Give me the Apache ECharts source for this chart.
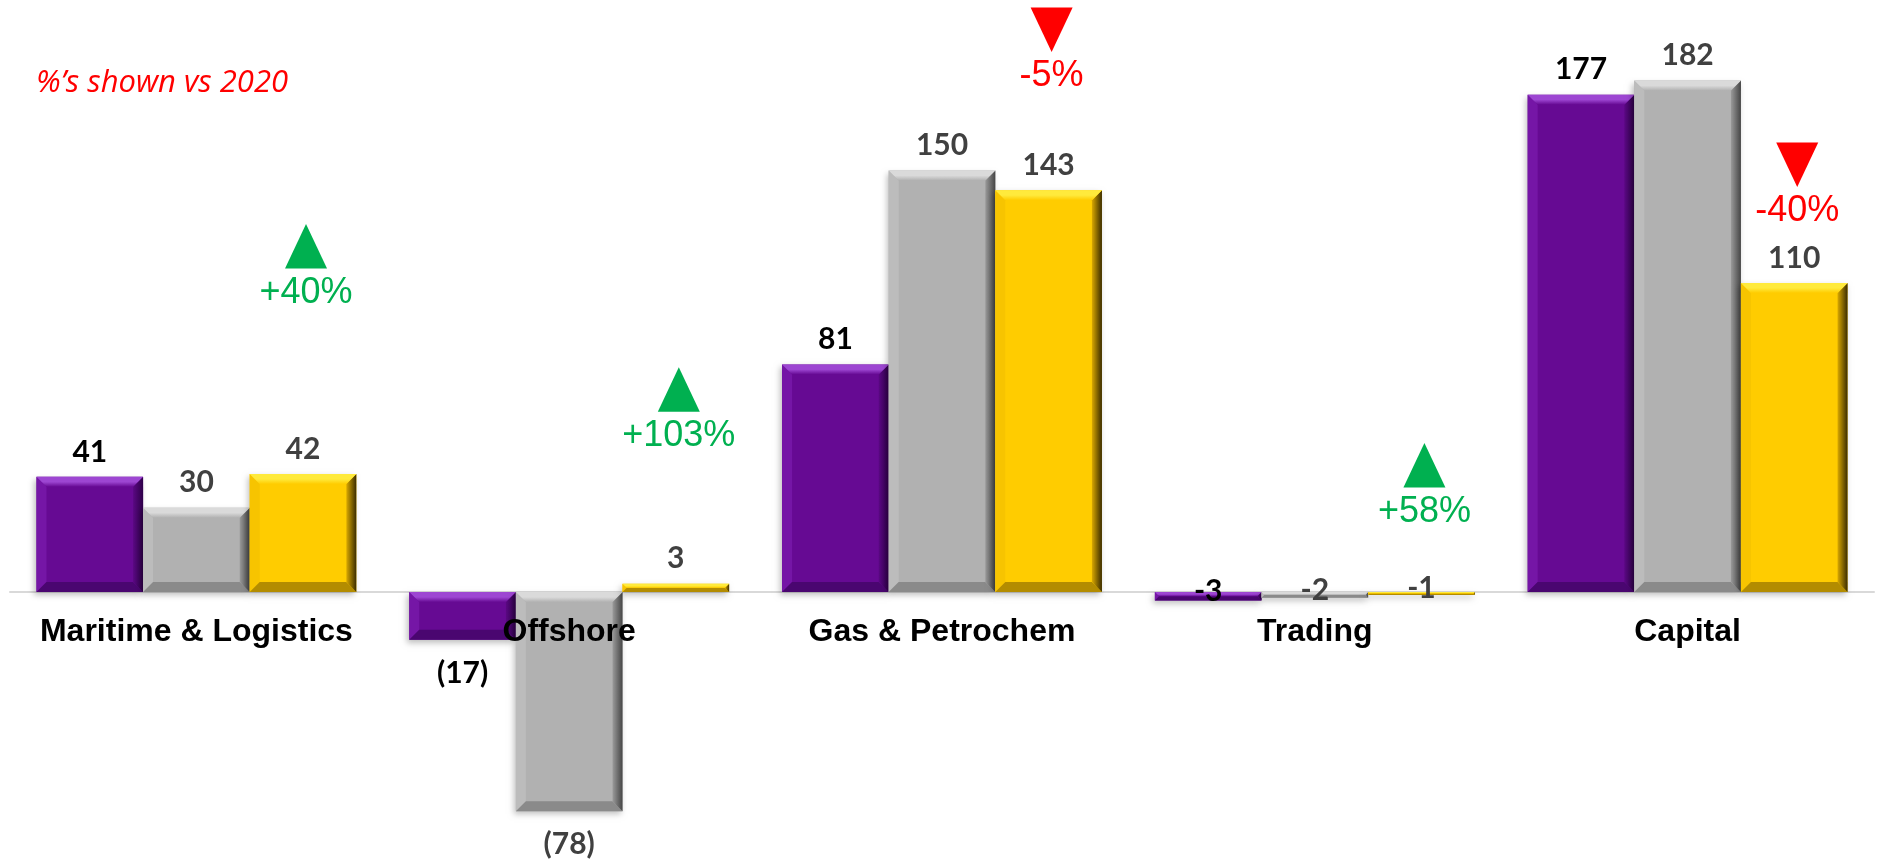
<!DOCTYPE html>
<html>
<head>
<meta charset="utf-8">
<script src="https://cdn.jsdelivr.net/npm/echarts@6/dist/echarts.min.js"></script>
<style>
html,body{margin:0;padding:0;background:#fff;}
#chart{width:1879px;height:862px;}
</style>
</head>
<body>
<div id="chart"></div>
<script>
// ---- data ----
const categories = ['Maritime & Logistics', 'Offshore', 'Gas & Petrochem', 'Trading', 'Capital'];
const seriesA = [41, -17, 81, -3, 177];     // purple
const seriesB = [30, -78, 150, -2, 182];    // gray
const seriesC = [42, 3, 143, -1, 110];      // yellow
const changeText = ['+40%', '+103%', '-5%', '+58%', '-40%'];
const changeLevel = [131, 80, 208, 53, 160]; // value level of the arrow top
const noteText = '%\u2019s shown vs 2020';

// ---- styles ----
const palette = [
  {base:'#660a93', top:'#9d46d2', left:'#7516a6', bottom:'#4a0670', right1:'#5a0883', right2:'#2e0048', label:'#000000'},
  {base:'#b1b1b1', top:'#dadada', left:'#bcbcbc', bottom:'#8a8a8a', right1:'#9a9a9a', right2:'#454545', label:'#404040'},
  {base:'#ffcc00', top:'#ffea3c', left:'#f7c400', bottom:'#b38c00', right1:'#d9a800', right2:'#3b2c00', label:'#404040'}
];
const BAR_FRAC = 0.286;
const inlineLabelCats = ['Trading'];

const allSeries = [seriesA, seriesB, seriesC];

const chart = echarts.init(document.getElementById('chart'));

function fmt(v, cat) {
  if (v < 0 && inlineLabelCats.indexOf(cat) < 0) return '(' + Math.abs(v) + ')';
  return String(v);
}

const barSeries = allSeries.map((arr, si) => ({
  type: 'bar',
  z: 3,
  barWidth: (BAR_FRAC * 100) + '%',
  barGap: '0%',
  itemStyle: {color: 'rgba(0,0,0,0)'},
  silent: true,
  data: arr.map((v, ci) => {
    const cat = categories[ci];
    const inline = inlineLabelCats.indexOf(cat) >= 0;
    return {
      value: v,
      label: {
        show: true,
        position: inline ? 'inside' : (v < 0 ? 'bottom' : 'top'),
        offset: inline ? [0, -5] : [0, 0],
        distance: v < 0 ? 18 : 10,
        formatter: () => fmt(v, cat),
        color: palette[si].label,
        fontFamily: 'Lato',
        fontWeight: 'bold',
        fontSize: 30
      }
    };
  })
}));

const bevelData = [];
allSeries.forEach((arr, si) => arr.forEach((v, ci) => bevelData.push([ci, si, v])));

function renderBevelBar(params, api) {
  const ci = api.value(0), si = api.value(1), v = api.value(2);
  const bandW = api.size([1, 0])[0];
  const bw = bandW * BAR_FRAC;
  const c0 = api.coord([ci, 0]);
  const c1 = api.coord([ci, v]);
  const x0 = c0[0] + (si - 1.5) * bw;
  const x1 = x0 + bw;
  const yt = Math.min(c0[1], c1[1]);
  const yb = Math.max(c0[1], c1[1]);
  const h = yb - yt;
  const b = Math.min(10, h / 2, bw / 2);
  const p = palette[si];
  const children = [
    {type: 'rect', shape: {x: x0, y: yt, width: bw, height: h},
     style: {fill: p.base, shadowBlur: 6, shadowColor: 'rgba(0,0,0,0.25)', shadowOffsetX: -2, shadowOffsetY: 3}},
    {type: 'polygon', shape: {points: [[x0, yt], [x0 + b, yt + b], [x0 + b, yb - b], [x0, yb]]}, style: {fill: p.left}},
    {type: 'polygon', shape: {points: [[x0, yb], [x1, yb], [x1 - b, yb - b], [x0 + b, yb - b]]}, style: {fill: p.bottom}},
    {type: 'polygon', shape: {points: [[x1, yt], [x1, yb], [x1 - b, yb - b], [x1 - b, yt + b]]},
     style: {fill: new echarts.graphic.LinearGradient(0, 0, 1, 0, [{offset: 0, color: p.right1}, {offset: 1, color: p.right2}])}},
    {type: 'polygon', shape: {points: [[x0, yt], [x1, yt], [x1 - b, yt + b], [x0 + b, yt + b]]},
     style: {fill: new echarts.graphic.LinearGradient(0, 0, 0, 1, [{offset: 0, color: p.top}, {offset: 0.5, color: p.top}, {offset: 1, color: p.base}])}}
  ];
  return {type: 'group', children: children};
}

function renderCategoryLabel(params, api) {
  const ci = api.value(0);
  const pt = api.coord([ci, 0]);
  return {
    type: 'text',
    style: {text: categories[ci], x: pt[0], y: pt[1] + 40, align: 'center', verticalAlign: 'middle',
      fill: '#000', font: 'bold 32px "Liberation Sans", Arial, sans-serif'}
  };
}

const changeData = changeText.map((t, ci) => [ci, changeLevel[ci], t]);

function renderChange(params, api) {
  const ci = api.value(0);
  const lvl = api.value(1);
  const t = changeText[ci];
  const up = t.charAt(0) === '+';
  const color = up ? '#00b050' : '#ff0000';
  const bandW = api.size([1, 0])[0];
  const bw = bandW * BAR_FRAC;
  const pt = api.coord([ci, lvl]);
  const cx = pt[0] + bw + 3;
  const ty = pt[1];
  const tw = 21, th = 44.5;
  const tri = up
    ? [[cx, ty], [cx + tw, ty + th], [cx - tw, ty + th]]
    : [[cx - tw, ty], [cx + tw, ty], [cx, ty + th]];
  return {
    type: 'group',
    children: [
      {type: 'polygon', shape: {points: tri}, style: {fill: color}},
      {type: 'text', style: {text: t, x: cx, y: ty + 69, align: 'center', verticalAlign: 'middle',
        fill: color, font: '36px "Liberation Sans", Arial, sans-serif'}}
    ]
  };
}

chart.setOption({
  animation: false,
  backgroundColor: '#ffffff',
  grid: {left: 10, right: 5, top: 30, bottom: 17, containLabel: false, outerBoundsMode: 'none'},
  xAxis: {
    type: 'category',
    data: categories,
    z: 1,
    axisLine: {show: true, onZero: true, lineStyle: {color: '#d9d9d9', width: 2}},
    axisTick: {show: false},
    axisLabel: {show: false}
  },
  yAxis: {
    type: 'value', min: -90, max: 200, show: false,
    splitLine: {show: false}
  },
  graphic: [{
    type: 'text', left: 36, top: 68,
    style: {text: noteText, fill: '#ff0000', font: 'italic 31px "Open Sans", Lato, sans-serif'}
  }],
  series: [
    {type: 'custom', z: 2, silent: true, renderItem: renderBevelBar, encode: {x: 0, y: 2}, data: bevelData},
    ...barSeries,
    {type: 'custom', z: 5, silent: true, renderItem: renderCategoryLabel, encode: {x: 0},
      data: categories.map((c, i) => [i])},
    {type: 'custom', z: 4, silent: true, renderItem: renderChange, encode: {x: 0, y: 1}, data: changeData}
  ]
});
</script>
</body>
</html>
